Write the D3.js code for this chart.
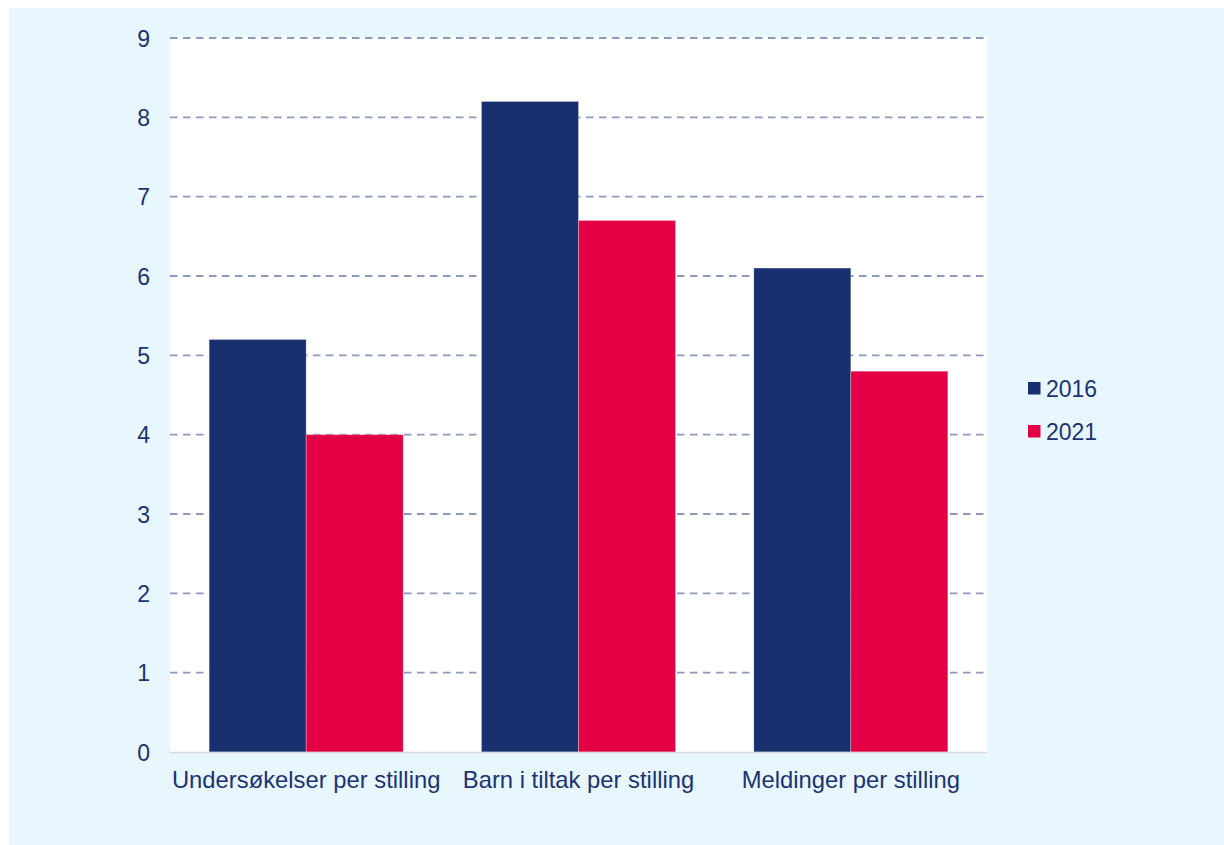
<!DOCTYPE html>
<html>
<head>
<meta charset="utf-8">
<script src="https://cdn.jsdelivr.net/npm/d3@7"></script>
<style>
  html, body { margin: 0; padding: 0; background: #ffffff; }
  svg { display: block; }
  text { font-family: "Liberation Sans", Arial, sans-serif; }
</style>
</head>
<body>
<svg id="chart" width="1224" height="845"></svg>
<script>
const categories = ["Undersøkelser per stilling", "Barn i tiltak per stilling", "Meldinger per stilling"];
const seriesNames = ["2016", "2021"];
const values2016 = [5.2, 8.2, 6.1];
const values2021 = [4.0, 6.7, 4.8];
const yTicks = [0, 1, 2, 3, 4, 5, 6, 7, 8, 9];

const seriesValues = [values2016, values2021];
const colors = ["#19306F", "#E30045"];
const textColor = "#1C3371";

const svg = d3.select("#chart");
const W = 1224, H = 845;

// panel background
svg.append("rect").attr("x", 9).attr("y", 8).attr("width", W - 9).attr("height", H - 8).attr("fill", "#E8F6FE");

const plot = { left: 170, right: 987, top: 38, bottom: 752 };

// white plot area
svg.append("rect").attr("x", plot.left).attr("y", plot.top - 1)
  .attr("width", plot.right - plot.left).attr("height", plot.bottom - plot.top + 1)
  .attr("fill", "#ffffff");

const y = d3.scaleLinear().domain([0, 9]).range([plot.bottom, plot.top]);
const x0 = d3.scaleBand().domain(categories).range([plot.left, plot.right])
  .paddingInner(0.2875).paddingOuter(0.14375);
const x1 = d3.scaleBand().domain(seriesNames).range([0, x0.bandwidth()]).padding(0);

// gridlines
svg.append("g").selectAll("line").data(yTicks.filter(d => d > 0)).join("line")
  .attr("x1", plot.left).attr("x2", plot.right)
  .attr("y1", d => y(d)).attr("y2", d => y(d))
  .attr("stroke", "#8D99B8").attr("stroke-width", 1.8)
  .attr("stroke-dasharray", "7.5,5.5");

// bars
const groups = svg.append("g").selectAll("g").data(categories).join("g")
  .attr("transform", c => `translate(${x0(c)},0)`);
groups.selectAll("rect").data((c, i) => seriesNames.map((s, j) => ({ s, v: seriesValues[j][i], j })))
  .join("rect")
  .attr("x", d => x1(d.s)).attr("width", x1.bandwidth())
  .attr("y", d => y(d.v)).attr("height", d => y(0) - y(d.v))
  .attr("fill", d => colors[d.j])
  .attr("stroke", "rgba(255,255,255,0.35)").attr("stroke-width", 0.8);

// baseline
svg.append("line").attr("x1", plot.left).attr("x2", plot.right)
  .attr("y1", y(0) + 0.5).attr("y2", y(0) + 0.5)
  .attr("stroke", "#D9D9D9").attr("stroke-width", 1.5);

// y axis labels
const yAxis = d3.axisLeft(y).tickValues(yTicks).tickSize(0).tickPadding(0).tickFormat(d3.format("d"));
const yg = svg.append("g").attr("transform", `translate(150,0)`).call(yAxis);
yg.select(".domain").remove();
yg.selectAll("text").attr("fill", textColor).attr("font-size", 23)
  .attr("font-family", "'Liberation Sans', Arial, sans-serif").attr("dy", "0.36em");

// x axis labels
const xAxis = d3.axisBottom(x0).tickSize(0).tickPadding(0);
const xg = svg.append("g").attr("transform", `translate(0,${plot.bottom})`).call(xAxis);
xg.select(".domain").remove();
xg.selectAll("text").attr("fill", textColor).attr("font-size", 23.8)
  .attr("font-family", "'Liberation Sans', Arial, sans-serif").attr("dy", null).attr("y", 36);

// legend
const legend = svg.append("g").selectAll("g").data(seriesNames).join("g")
  .attr("transform", (d, i) => `translate(1028,${382 + i * 43})`);
legend.append("rect").attr("width", 12.5).attr("height", 12.5).attr("fill", (d, i) => colors[i]);
legend.append("text").attr("x", 18).attr("y", 6.5).attr("dy", "0.36em")
  .attr("font-size", 23).attr("fill", textColor).text(d => d);
</script>
</body>
</html>
